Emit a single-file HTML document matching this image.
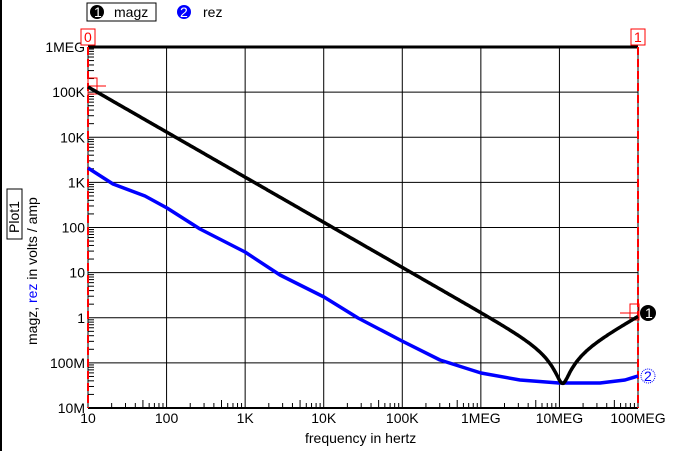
<!DOCTYPE html>
<html><head><style>
body{margin:0;background:#fff;}
svg text{font-family:"Liberation Sans",sans-serif;font-size:14px;}
</style></head><body>
<svg id="s" width="688" height="451" xmlns="http://www.w3.org/2000/svg">
<line x1="1" y1="0" x2="1" y2="451" stroke="#000" stroke-width="2"/>
<rect x="87" y="3" width="69" height="18" fill="none" stroke="#000"/>
<circle cx="97" cy="12" r="7" fill="#000"/><text x="94" y="17" fill="#fff" font-size="11">1</text>
<text x="114" y="17">magz</text>
<circle cx="184" cy="12" r="7" fill="#0000ff"/><text x="180" y="17" fill="#fff" font-size="11">2</text>
<text x="203" y="17">rez</text>
<g id="grid" stroke="#000" stroke-width="1"></g>
<g id="lbl"></g>
<line x1="638" y1="47" x2="638" y2="408" stroke="#f00" stroke-width="2" stroke-dasharray="8,4"/>
<line x1="88" y1="47" x2="88" y2="408" stroke="#f00" stroke-width="2" stroke-dasharray="8,4"/>
<rect x="81" y="29" width="14" height="16" fill="#fff" stroke="#f00"/><text x="84" y="42" fill="#f00" font-size="13">0</text>
<rect x="631" y="29" width="14" height="16" fill="#fff" stroke="#f00"/><text x="634" y="42" fill="#f00" font-size="13">1</text>
<rect x="88" y="78" width="9" height="16" fill="none" stroke="#f00"/><line x1="88" y1="86" x2="106" y2="86" stroke="#f00"/>
<rect x="630" y="304" width="9" height="16" fill="none" stroke="#f00"/><line x1="620" y1="313" x2="638" y2="313" stroke="#f00"/>
<path id="blue" fill="none" stroke="#0000ff" stroke-width="3.5" stroke-linejoin="round"/>
<path id="black" fill="none" stroke="#000" stroke-width="3.5"/>
<circle cx="648" cy="313" r="8" fill="#000"/><text x="645" y="318" fill="#fff" font-size="11">1</text>
<circle cx="648" cy="376" r="7" fill="#fff" stroke="#0000ff" stroke-dasharray="1,1"/><text x="644" y="381" fill="#0000ff" font-size="11">2</text>
<rect x="7" y="189" width="15" height="50" fill="#fff" stroke="#000"/>
<text transform="translate(19,233) rotate(-90)">Plot1</text>
<text transform="translate(37,345) rotate(-90)">magz, <tspan fill="#0000ff">rez</tspan> in volts / amp</text>
<text x="305" y="443">frequency in hertz</text>
</svg>
<script>
var ns="http://www.w3.org/2000/svg",X0=88,X1=638,Y0=47,Y1=408;
function xf(f){return X0+(Math.log10(f)-1)*(X1-X0)/7;}
function yv(v){return Y0+(6-Math.log10(v))*(Y1-Y0)/8;}
var g=document.getElementById('grid'),l=document.getElementById('lbl');
function ln(a,b,c,d,w){var e=document.createElementNS(ns,'line');e.setAttribute('x1',a);e.setAttribute('y1',b);e.setAttribute('x2',c);e.setAttribute('y2',d);if(w)e.setAttribute('stroke-width',w);g.appendChild(e);}
function tx(x,y,s,a){var e=document.createElementNS(ns,'text');e.setAttribute('x',x);e.setAttribute('y',y);e.setAttribute('text-anchor',a);e.textContent=s;l.appendChild(e);}
var xl=['10','100','1K','10K','100K','1MEG','10MEG','100MEG'];
for(var i=0;i<8;i++){var x=X0+i*(X1-X0)/7;ln(x,Y0,x,Y1);tx(x,423,xl[i],'middle');
 if(i<7)for(var k=2;k<10;k++){var xx=x+Math.log10(k)*(X1-X0)/7;ln(xx,Y1,xx,Y1-(k==5?8:5));}}
var yl=['1MEG','100K','10K','1K','100','10','1','100M','10M'];
for(var j=0;j<9;j++){var y=Y0+j*(Y1-Y0)/8;ln(X0,y,X1,y);tx(85,y+5,yl[j],'end');
 if(j<8)for(var k=2;k<10;k++){var yy=y+(1-Math.log10(k))*(Y1-Y0)/8;ln(X0,yy,X0+6,yy);}}
ln(X0,Y0,X1,Y0,3);ln(X0,Y1,X1,Y1,2);
var C=1.22e-7,L=1.72e-9,R=0.035,d='';
for(var i=0;i<=700;i++){var f=Math.pow(10,1+i/100),w=2*Math.PI*f;var z=Math.sqrt(R*R+Math.pow(w*L-1/(w*C),2));
 d+=(i?'L':'M')+xf(f).toFixed(1)+','+yv(z).toFixed(1);}
document.getElementById('black').setAttribute('d',d);
var bp=[[88,168],[113,184],[145,196],[167,208],[200,229],[245,252],[280,275],[324,297],[358,318],[402,341],[440,360],[481,373],[520,380],[559,383],[600,383],[625,380],[638,376]];
document.getElementById('blue').setAttribute('d','M'+bp.map(function(p){return p.join(',');}).join('L'));
</script>
</body></html>
